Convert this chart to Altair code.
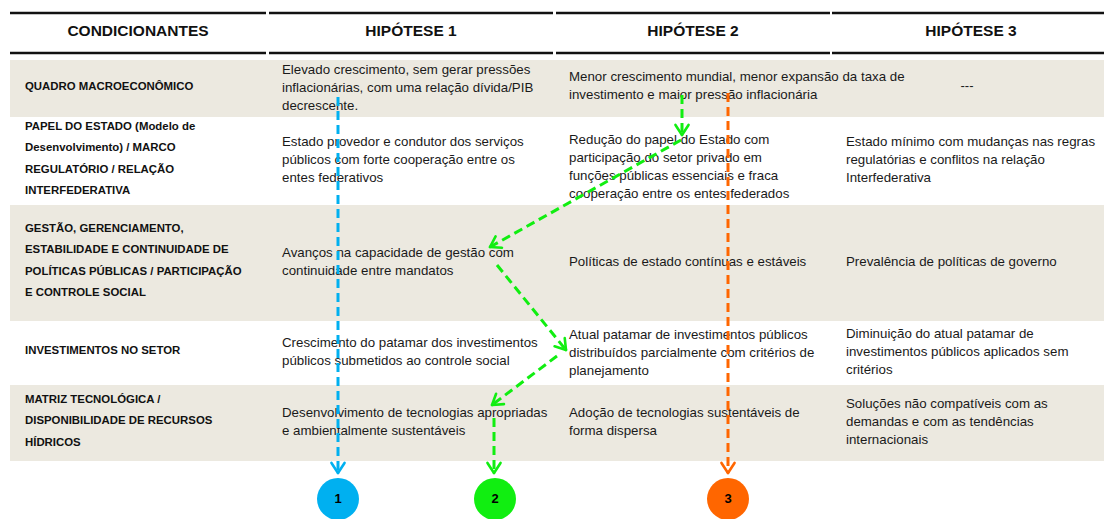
import math
import altair as alt
import pandas as pd

# ---------------- data (text content) ----------------
headers = ["CONDICIONANTES", "HIPÓTESE 1", "HIPÓTESE 2", "HIPÓTESE 3"]

condicionantes = [
    "QUADRO MACROECONÔMICO",
    "PAPEL DO ESTADO (Modelo de\nDesenvolvimento) / MARCO\nREGULATÓRIO / RELAÇÃO\nINTERFEDERATIVA",
    "GESTÃO, GERENCIAMENTO,\nESTABILIDADE E CONTINUIDADE DE\nPOLÍTICAS PÚBLICAS / PARTICIPAÇÃO\nE CONTROLE SOCIAL",
    "INVESTIMENTOS NO SETOR",
    "MATRIZ TECNOLÓGICA /\nDISPONIBILIDADE DE RECURSOS\nHÍDRICOS",
]

hipotese1 = [
    "Elevado crescimento, sem gerar pressões\ninflacionárias, com uma relação dívida/PIB\ndecrescente.",
    "Estado provedor e condutor dos serviços\npúblicos com forte cooperação entre os\nentes federativos",
    "Avanços na capacidade de gestão com\ncontinuidade entre mandatos",
    "Crescimento do patamar dos investimentos\npúblicos submetidos ao controle social",
    "Desenvolvimento de tecnologias apropriadas\ne ambientalmente sustentáveis",
]

hipotese2 = [
    "Menor crescimento mundial, menor expansão da taxa de\ninvestimento e maior pressão inflacionária",
    "Redução do papel do Estado com\nparticipação do setor privado em\nfunções públicas essenciais e fraca\ncooperação entre os entes federados",
    "Políticas de estado contínuas e estáveis",
    "Atual patamar de investimentos públicos\ndistribuídos parcialmente com critérios de\nplanejamento",
    "Adoção de tecnologias sustentáveis de\nforma dispersa",
]

hipotese3 = [
    "---",
    "Estado mínimo com mudanças nas regras\nregulatórias e conflitos na relação\nInterfederativa",
    "Prevalência de políticas de governo",
    "Diminuição do atual patamar de\ninvestimentos públicos aplicados sem\ncritérios",
    "Soluções não compatíveis com as\ndemandas e com as tendências\ninternacionais",
]

cenarios = ["1", "2", "3"]
cenario_colors = ["#00B0F0", "#11EE11", "#FF6600"]

# ---------------- layout ----------------
W, H = 1096, 511
X0, Y0 = 8, 8
col_seg = [(10, 266), (269, 553), (556, 830), (832, 1110)]
col_text_x = [25, 282, 569, 846]
row_bounds = [60, 117, 205, 321, 385, 461]
header_rule_y = [13, 53]
header_y = 31
band_color = "#ECE9E0"
LH_LABEL, LH_BODY = 21.5, 18
cell_nudge = {(2, 1): 7, (2, 0): -2, (2, 3): 1}

xs = alt.Scale(domain=[X0, X0 + W], nice=False, zero=False)
ys = alt.Scale(domain=[Y0, Y0 + H], nice=False, zero=False, reverse=True)
cscale = alt.Scale(domain=cenarios, range=cenario_colors)


def X(f):
    return alt.X(f, type="quantitative", scale=xs, axis=None)


def Y(f):
    return alt.Y(f, type="quantitative", scale=ys, axis=None)


def first_line_y(center, lines, lh):
    return center - (len(lines) - 1) * lh / 2


# bands
bands = pd.DataFrame([
    {"x": col_seg[0][0], "x2": col_seg[3][1] + 2, "y": row_bounds[i], "y2": row_bounds[i + 1]}
    for i in range(5) if i % 2 == 0
])
band_layer = alt.Chart(bands).mark_rect(color=band_color).encode(
    x=X("x"), x2="x2", y=Y("y"), y2="y2")

# header rules
rules = pd.DataFrame([
    {"x": a, "x2": b, "y": yy, "y2": yy} for yy in header_rule_y for (a, b) in col_seg
])
rule_layer = alt.Chart(rules).mark_rule(color="#111111", strokeWidth=2.6).encode(
    x=X("x"), x2="x2", y=Y("y"), y2="y2")

# header text
hdf = pd.DataFrame({"t": headers,
                    "x": [(a + b) / 2 for a, b in col_seg],
                    "y": [header_y] * 4})
header_layer = alt.Chart(hdf).mark_text(
    font="Liberation Sans", fontSize=15.5, fontWeight="bold", color="#111111",
    align="center", baseline="middle").encode(x=X("x"), y=Y("y"), text="t")

# row labels
centers = [(row_bounds[i] + row_bounds[i + 1]) / 2 for i in range(5)]
labels = []
for ri, s in enumerate(condicionantes):
    lines = s.split("\n")
    labels.append({"t": lines, "x": col_text_x[0],
                   "y": first_line_y(centers[ri] - 2, lines, LH_LABEL)})
ldf = pd.DataFrame(labels)
label_layer = alt.Chart(ldf).mark_text(
    font="Liberation Sans", fontSize=11.4, fontWeight="bold", color="#111111",
    align="left", baseline="middle", lineHeight=LH_LABEL).encode(
    x=X("x"), y=Y("y"), text="t")

# body cells
cells = []
for ci, col in enumerate([hipotese1, hipotese2, hipotese3], start=1):
    for ri, txt in enumerate(col):
        if txt == "---":
            continue
        lines = txt.split("\n")
        cy = centers[ri] - 1 + cell_nudge.get((ci, ri), 0)
        cells.append({"t": lines, "x": col_text_x[ci],
                      "y": first_line_y(cy, lines, LH_BODY)})
cdf = pd.DataFrame(cells)
body_layer = alt.Chart(cdf).mark_text(
    font="Liberation Sans", fontSize=13.3, color="#1a1a1a",
    align="left", baseline="middle", lineHeight=LH_BODY).encode(
    x=X("x"), y=Y("y"), text="t")

dash_df = pd.DataFrame([{"t": "---", "x": (col_seg[3][0] + col_seg[3][1]) / 2 - 4, "y": centers[0] - 3}])
dash_layer = alt.Chart(dash_df).mark_text(
    font="Liberation Sans", fontSize=13, color="#1a1a1a",
    align="center", baseline="middle").encode(x=X("x"), y=Y("y"), text="t")

# scenario arrows (segments, each ends with an open arrowhead)
circle_y = 499
circle_x = [338, 495, 728]
tip_y = 473
segments = [
    ("1", 338, 97, 338, tip_y),
    ("3", 728, 93, 728, tip_y),
    ("2", 682, 95, 682, 135),
    ("2", 681, 140, 490, 247),
    ("2", 497, 265, 566, 350),
    ("2", 557, 356, 492, 405),
    ("2", 494, 418, 494, tip_y),
]
seg_df = pd.DataFrame(segments, columns=["s", "x", "y", "x2", "y2"])
seg_layer = alt.Chart(seg_df).mark_rule(strokeWidth=3, strokeDash=[9, 5]).encode(
    x=X("x"), x2="x2", y=Y("y"), y2="y2",
    color=alt.Color("s:N", scale=cscale, legend=None))

heads = []
L, ang = 12, math.radians(33)
for s, x1, y1, x2, y2 in segments:
    dx, dy = x2 - x1, y2 - y1
    n = math.hypot(dx, dy)
    ux, uy = dx / n, dy / n
    for sg in (1, -1):
        ca, sa = math.cos(sg * ang), math.sin(sg * ang)
        rx = ux * ca - uy * sa
        ry = ux * sa + uy * ca
        heads.append({"s": s, "x": x2, "y": y2, "x2": x2 - L * rx, "y2": y2 - L * ry})
head_df = pd.DataFrame(heads)
head_layer = alt.Chart(head_df).mark_rule(strokeWidth=2.6, strokeCap="round").encode(
    x=X("x"), x2="x2", y=Y("y"), y2="y2",
    color=alt.Color("s:N", scale=cscale, legend=None))

circ_df = pd.DataFrame({"s": cenarios, "x": circle_x, "y": [circle_y] * 3})
circ_layer = alt.Chart(circ_df).mark_point(
    shape="circle", filled=True, opacity=1, size=42 * 42).encode(
    x=X("x"), y=Y("y"), color=alt.Color("s:N", scale=cscale, legend=None))
num_layer = alt.Chart(circ_df).mark_text(
    font="Liberation Sans", fontSize=13, fontWeight="bold", color="#000000",
    align="center", baseline="middle").encode(x=X("x"), y=Y("y"), text="s")

chart = alt.layer(
    band_layer, rule_layer, header_layer, label_layer, body_layer, dash_layer,
    seg_layer, head_layer, circ_layer, num_layer
).properties(
    width=W, height=H, padding=0,
    autosize=alt.AutoSizeParams(type="none")
).configure_view(stroke=None)

chart.save("out.html", embed_options={"renderer": "svg", "actions": False})
